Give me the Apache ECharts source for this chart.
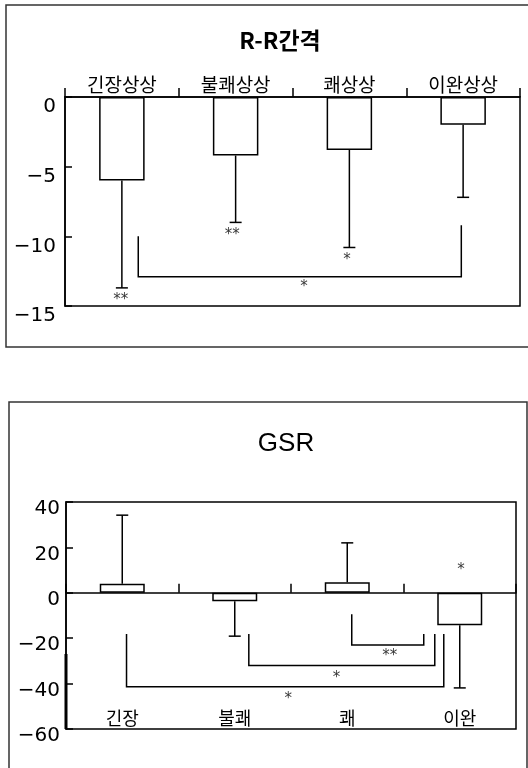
<!DOCTYPE html>
<html>
<head>
<meta charset="utf-8">
<script src="https://cdn.jsdelivr.net/npm/echarts@6/dist/echarts.min.js"></script>
<style>
html,body{margin:0;padding:0;background:#fff;}
#c{width:528px;height:768px;}
</style>
</head>
<body>
<div id="c"></div>
<script>
// ---------- R-R interval ----------
const rrCategories = ['긴장상상', '불쾌상상', '쾌상상', '이완상상'];
const rrMean = [-6.0, -4.2, -3.8, -2.0];
const rrErrEnd = [-13.7, -9.0, -10.8, -7.2];
const rrYTicks = { min: -15, max: 0, interval: 5 };
// [xLeft, xRight, yLeftTop, yRightTop, yBottom] in category units
const rrBrackets = [[0.644, 3.484, -10.0, -9.2, -12.9]];
const rrStars = [[0.49, -14.35, '**'], [1.47, -9.7, '**'], [2.48, -11.5, '*'], [2.10, -13.4, '*']];

// ---------- GSR ----------
const gsrCategories = ['긴장', '불쾌', '쾌', '이완'];
const gsrMean = [4.0, -3.7, 4.6, -14.3];
const gsrErrEnd = [34.2, -19.1, 22.0, -41.9];
const gsrYTicks = { min: -60, max: 40, interval: 20 };
const gsrBrackets = [
  [2.54, 3.18, -9.4, -18.2, -23.0],
  [1.625, 3.278, -18.2, -18.2, -32.0],
  [0.538, 3.358, -18.2, -18.2, -41.4]
];
const gsrStars = [[3.51, 11.5, '*'], [2.878, -26.4, '**'], [2.404, -36.3, '*'], [1.976, -45.5, '*']];
const gsrAxisMark = [[0, -27], [0, -60]];

const numFont = 'DejaVu Sans';
const krFont = '"Noto Sans CJK KR", "Noto Sans", sans-serif';
const minus = v => String(v).replace('-', '\u2212');

function errorSeries(xi, yi, mean, err) {
  return {
    type: 'custom', xAxisIndex: xi, yAxisIndex: yi, clip: false,
    data: mean.map((m, i) => [i, m, err[i]]),
    encode: { x: 0, y: 1 },
    renderItem: function (params, api) {
      const p0 = api.coord([api.value(0), api.value(1)]);
      const p1 = api.coord([api.value(0), api.value(2)]);
      return {
        type: 'group', children: [
          { type: 'line', shape: { x1: p0[0], y1: p0[1], x2: p1[0], y2: p1[1] }, style: { stroke: '#000', lineWidth: 1.5 } },
          { type: 'line', shape: { x1: p1[0] - 6, y1: p1[1], x2: p1[0] + 6, y2: p1[1] }, style: { stroke: '#000', lineWidth: 1.5 } }
        ]
      };
    }
  };
}
function bracketSeries(xi, yi, data) {
  return {
    type: 'custom', xAxisIndex: xi, yAxisIndex: yi, clip: false,
    data: data, encode: { x: 0, y: 2 },
    renderItem: function (params, api) {
      const a = api.coord([api.value(0), api.value(2)]);
      const b = api.coord([api.value(0), api.value(4)]);
      const c = api.coord([api.value(1), api.value(4)]);
      const d = api.coord([api.value(1), api.value(3)]);
      return { type: 'polyline', shape: { points: [a, b, c, d] }, style: { stroke: '#000', lineWidth: 1.5, fill: null } };
    }
  };
}
function starSeries(xi, yi, data) {
  return {
    type: 'scatter', xAxisIndex: xi, yAxisIndex: yi, symbolSize: 0, clip: false,
    data: data.map(d => ({ value: [d[0], d[1]], name: d[2] })),
    label: { show: true, position: 'inside', formatter: p => p.name, color: '#000', fontSize: 15, fontFamily: numFont, offset: [0, 3] }
  };
}

const chart = echarts.init(document.getElementById('c'), null, { renderer: 'canvas' });
chart.setOption({
  animation: false,
  backgroundColor: '#fff',
  title: [
    { text: 'R-R간격', left: 275, top: 35, textAlign: 'center', textVerticalAlign: 'middle',
      textStyle: { fontFamily: krFont, fontWeight: 'bold', fontSize: 23, color: '#000' } },
    { text: 'GSR', left: 281, top: 439, textAlign: 'center', textVerticalAlign: 'middle',
      textStyle: { fontFamily: 'Liberation Sans', fontWeight: 'normal', fontSize: 26, color: '#000' } }
  ],
  graphic: [
    { type: 'rect', shape: { x: 6, y: 5, width: 540, height: 342 }, style: { fill: null, stroke: '#333', lineWidth: 1.5 } },
    { type: 'rect', shape: { x: 9, y: 402, width: 518, height: 420 }, style: { fill: null, stroke: '#333', lineWidth: 1.5 } }
  ],
  grid: [
    { left: 65, top: 97, width: 455, height: 209, outerBoundsMode: 'none', containLabel: false,
      show: true, borderColor: '#000', borderWidth: 1.5, backgroundColor: 'transparent' },
    { left: 66, top: 502, width: 450, height: 227, outerBoundsMode: 'none', containLabel: false,
      show: true, borderColor: '#000', borderWidth: 1.5, backgroundColor: 'transparent' }
  ],
  xAxis: [
    { type: 'category', gridIndex: 0, data: rrCategories, position: 'top',
      axisLine: { lineStyle: { color: '#000', width: 1.5 } },
      axisTick: { show: true, length: 9, lineStyle: { color: '#000', width: 1.5 } },
      axisLabel: { color: '#000', fontSize: 19, fontFamily: krFont, margin: 3 } },
    { type: 'value', gridIndex: 0, min: 0, max: 4, show: false },
    { type: 'category', gridIndex: 1, data: gsrCategories, position: 'bottom',
      axisLine: { onZero: true, lineStyle: { color: '#000', width: 1.5 } },
      axisTick: { show: true, inside: true, length: 9, lineStyle: { color: '#000', width: 1.5 } },
      axisLabel: { color: '#000', fontSize: 18, fontFamily: krFont, inside: true, margin: 2 } },
    { type: 'value', gridIndex: 1, min: 0, max: 4, show: false }
  ],
  yAxis: [
    { type: 'value', gridIndex: 0, min: rrYTicks.min, max: rrYTicks.max, interval: rrYTicks.interval,
      splitLine: { show: false },
      axisLine: { show: true, lineStyle: { color: '#000', width: 1.5 } },
      axisTick: { show: true, inside: true, length: 7, lineStyle: { color: '#000', width: 1.5 } },
      axisLabel: { color: '#000', fontSize: 20, fontFamily: numFont, margin: 9, verticalAlign: 'top', formatter: minus } },
    { type: 'value', gridIndex: 1, min: gsrYTicks.min, max: gsrYTicks.max, interval: gsrYTicks.interval,
      splitLine: { show: false },
      axisLine: { show: true, lineStyle: { color: '#000', width: 1.5 } },
      axisTick: { show: true, inside: true, length: 7, lineStyle: { color: '#000', width: 1.5 } },
      axisLabel: { color: '#000', fontSize: 20, fontFamily: numFont, margin: 6, verticalAlign: 'top', padding: [-3, 0, 0, 0], formatter: minus } }
  ],
  series: [
    { type: 'bar', xAxisIndex: 0, yAxisIndex: 0, data: rrMean, barWidth: '40%',
      itemStyle: { color: '#fff', borderColor: '#000', borderWidth: 1.5 } },
    errorSeries(0, 0, rrMean, rrErrEnd),
    bracketSeries(1, 0, rrBrackets),
    starSeries(1, 0, rrStars),
    { type: 'bar', xAxisIndex: 2, yAxisIndex: 1, data: gsrMean, barWidth: '40%',
      itemStyle: { color: '#fff', borderColor: '#000', borderWidth: 1.5 } },
    errorSeries(2, 1, gsrMean, gsrErrEnd),
    bracketSeries(3, 1, gsrBrackets),
    starSeries(3, 1, gsrStars),
    { type: 'line', xAxisIndex: 3, yAxisIndex: 1, data: gsrAxisMark, symbol: 'none',
      lineStyle: { color: '#000', width: 3 } }
  ]
});
</script>
</body>
</html>
